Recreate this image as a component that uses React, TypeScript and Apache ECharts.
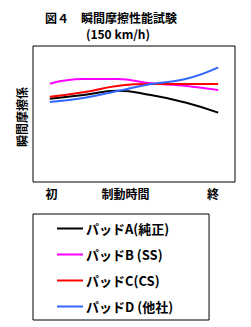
import React, { useEffect, useRef } from "react";
import * as echarts from "echarts";

const titleLines = ["図４　瞬間摩擦性能試験", "(150 km/h)"];
const yAxisName = "瞬間摩擦係";
const xTickLabels = ["初", "制動時間", "終"];
const times = [0, 2, 4, 6, 8, 10];
const seriesNames = ["パッドA(純正)", "パッドB (SS)", "パッドC(CS)", "パッドD (他社)"];
const padA = [61.2, 64.0, 67.1, 64.0, 58.6, 51.0];
const padB = [72.3, 75.7, 75.7, 72.6, 70.8, 67.6];
const padC = [62.7, 66.0, 70.6, 72.1, 72.1, 72.1];
const padD = [58.8, 61.8, 66.9, 72.1, 75.5, 84.3];
const seriesColors = ["#000000", "#ff00ff", "#ff0000", "#3366ff"];

const FONT = "'Noto Sans CJK JP', sans-serif";

export default function App() {
  const ref = useRef<HTMLDivElement>(null);
  useEffect(() => {
    if (!ref.current) return;
    const chart = echarts.init(ref.current, null, { renderer: "svg" });
    const values = [padA, padB, padC, padD];
    const labelPos = [0.1, 4.5, 9.7];
    const titleStyle = {
      fontFamily: FONT,
      fontSize: 12,
      fontWeight: "bold",
      color: "#000",
      lineHeight: 12,
    };
    chart.setOption({
      animation: false,
      backgroundColor: "#ffffff",
      title: [
        { text: titleLines[0], left: 111, top: 11, textAlign: "center", padding: 0, textStyle: titleStyle },
        { text: titleLines[1], left: 118, top: 27, textAlign: "center", padding: 0, textStyle: titleStyle },
      ],
      grid: {
        left: 33,
        right: 16,
        top: 46,
        bottom: 145,
        show: true,
        borderColor: "#000",
        borderWidth: 1,
        containLabel: false,
      },
      xAxis: {
        type: "value",
        min: -1,
        max: 11,
        axisLine: { show: false },
        axisTick: { show: false },
        splitLine: { show: false },
        axisLabel: {
          customValues: labelPos,
          formatter: (v: number) => {
            const i = labelPos.indexOf(v);
            return i >= 0 ? xTickLabels[i] : "";
          },
          fontFamily: FONT,
          fontSize: 12,
          fontWeight: "bold",
          color: "#000",
          margin: 5,
        },
      },
      yAxis: {
        type: "value",
        min: 0,
        max: 100,
        name: yAxisName,
        nameLocation: "middle",
        nameRotate: 90,
        nameGap: 6,
        nameTextStyle: {
          fontFamily: FONT,
          fontSize: 12,
          fontWeight: "bold",
          color: "#000",
          padding: [0, 0, 0, -6],
        },
        axisLine: { show: false },
        axisTick: { show: false },
        axisLabel: { show: false },
        splitLine: { show: false },
      },
      legend: {
        orient: "vertical",
        left: 33,
        top: 214,
        width: 195,
        padding: [8, 36, 7, 24],
        itemWidth: 26,
        itemHeight: 14,
        itemGap: 13,
        borderColor: "#000",
        borderWidth: 1,
        icon: "path://M0,6 L26,6 L26,8 L0,8 Z",
        data: seriesNames,
        textStyle: {
          fontFamily: FONT,
          fontSize: 13,
          fontWeight: "bold",
          color: "#000",
          padding: [0, 0, 0, -2],
        },
      },
      series: seriesNames.map((name, i) => ({
        name,
        type: "line",
        smooth: true,
        symbol: "none",
        color: seriesColors[i],
        lineStyle: { width: 2, color: seriesColors[i] },
        data: times.map((t, j) => [t, values[i][j]]),
      })),
    });
    return () => chart.dispose();
  }, []);
  return <div ref={ref} style={{ width: 251, height: 327, position: "absolute", left: 0, top: 0 }} />;
}
